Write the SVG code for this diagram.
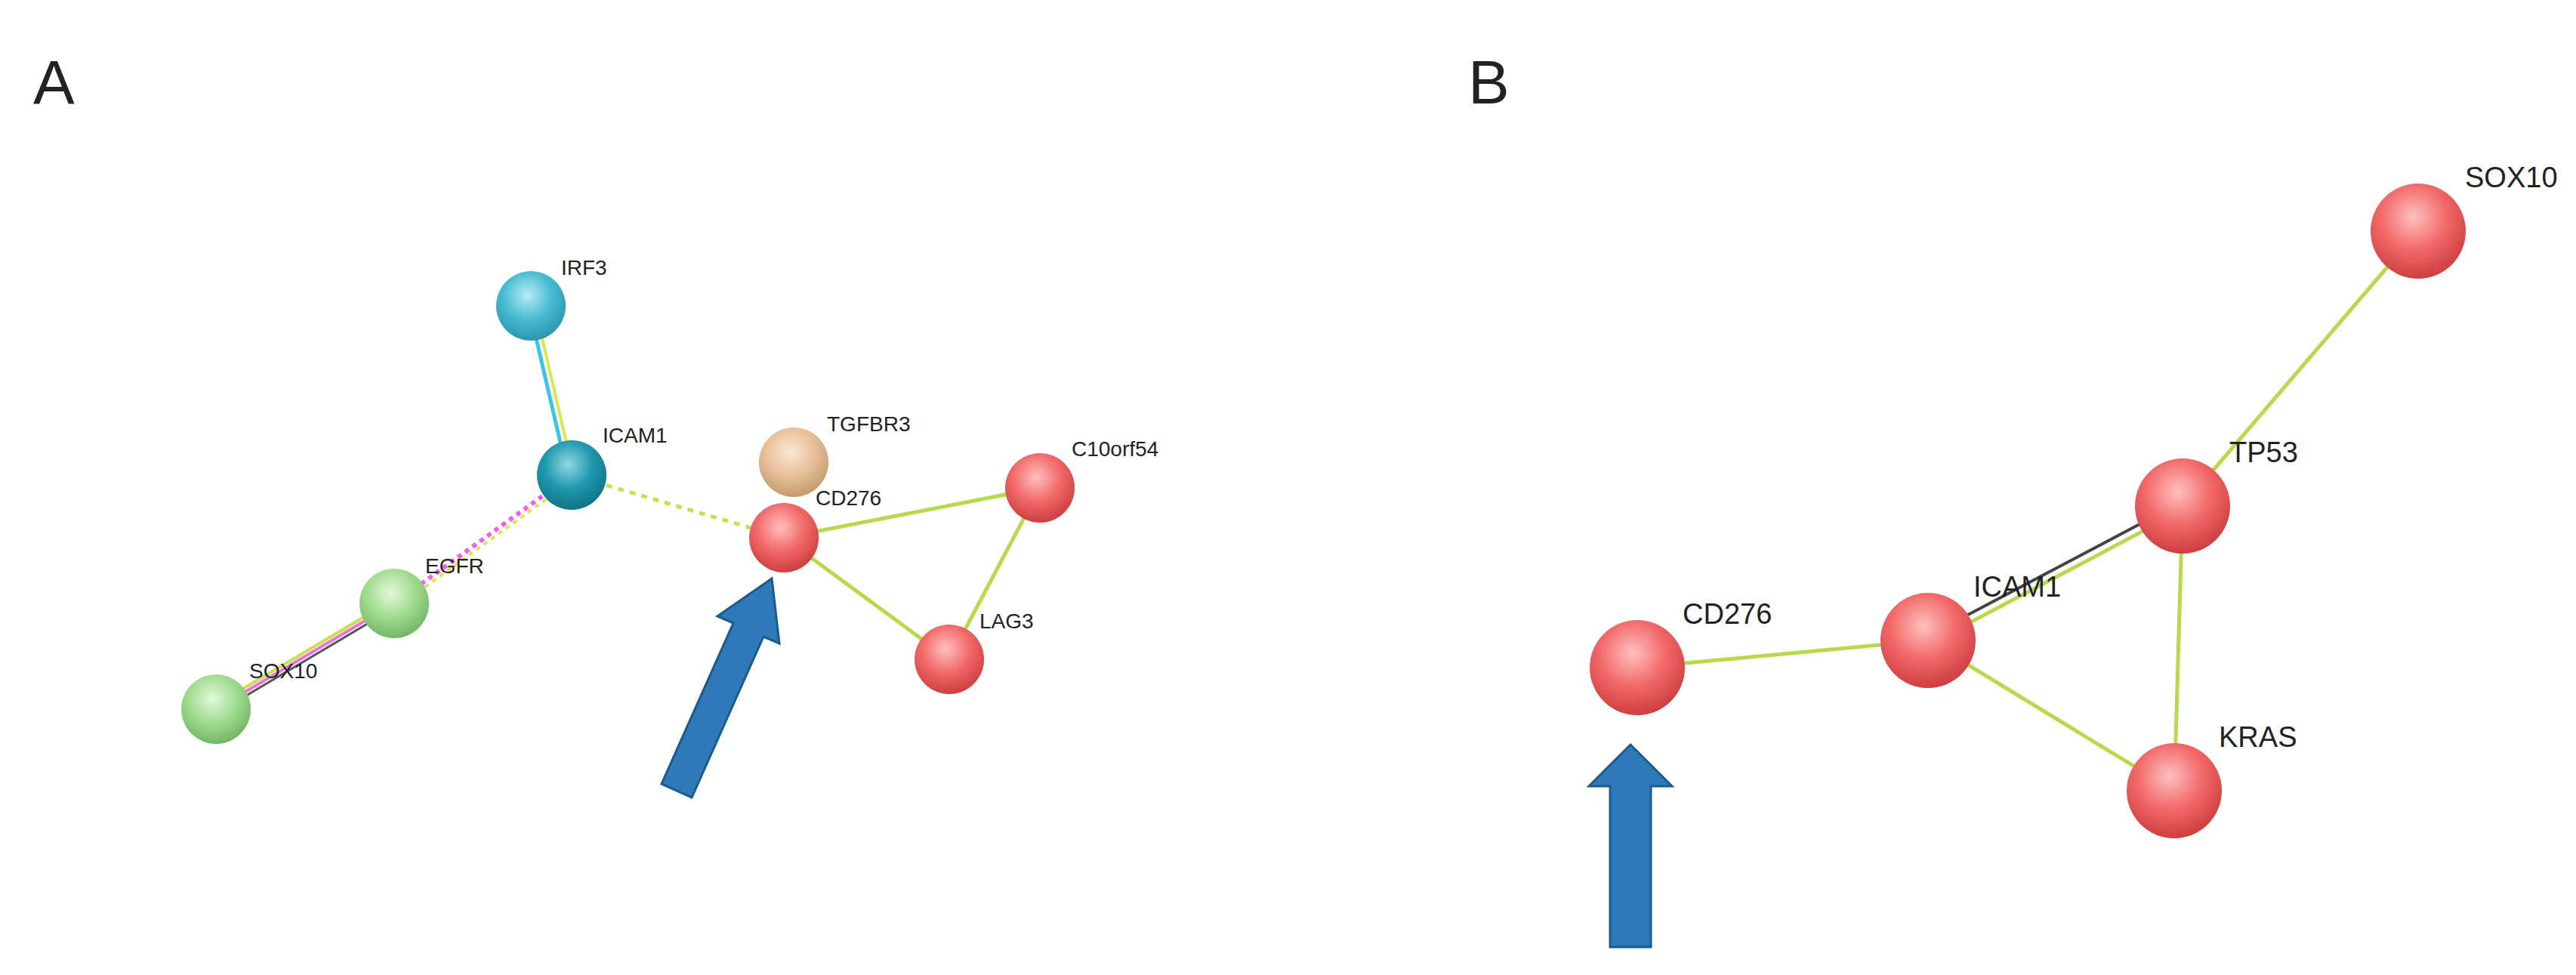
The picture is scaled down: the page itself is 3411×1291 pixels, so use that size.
<svg xmlns="http://www.w3.org/2000/svg" width="3411" height="1291" viewBox="0 0 3411 1291">
<style>
.t{font-family:"Liberation Sans",Arial,sans-serif;fill:#222}
.la{font-size:28px}
.lb{font-size:38px}
.e{stroke:#b8d94a;stroke-width:5;fill:none}
.arr{fill:#2e7ab8;stroke:#1d5a8c;stroke-width:3}
</style>
<defs>
<radialGradient id="gr" cx="0.45" cy="0.35" r="0.7"><stop offset="0" stop-color="#ffc0c0"/><stop offset="0.5" stop-color="#f26868"/><stop offset="1" stop-color="#c83838"/></radialGradient>
<radialGradient id="gt" cx="0.45" cy="0.35" r="0.7"><stop offset="0" stop-color="#8fd8e4"/><stop offset="0.5" stop-color="#1f98ad"/><stop offset="1" stop-color="#0e6d80"/></radialGradient>
<radialGradient id="gc" cx="0.45" cy="0.35" r="0.7"><stop offset="0" stop-color="#b8ecf4"/><stop offset="0.5" stop-color="#48bcd2"/><stop offset="1" stop-color="#2690a8"/></radialGradient>
<radialGradient id="gg" cx="0.45" cy="0.35" r="0.7"><stop offset="0" stop-color="#e4f8dc"/><stop offset="0.5" stop-color="#a0dc90"/><stop offset="1" stop-color="#6cb060"/></radialGradient>
<radialGradient id="gb" cx="0.45" cy="0.35" r="0.7"><stop offset="0" stop-color="#fbe8d4"/><stop offset="0.5" stop-color="#e8c09a"/><stop offset="1" stop-color="#c09468"/></radialGradient>
</defs>
<text class="t" x="44" y="137" font-size="82">A</text>
<text class="t" x="1944" y="137" font-size="82">B</text>
<g id="connectors">
<line x1="700" y1="405" x2="752" y2="629" stroke="#3cc4e8" stroke-width="5"/>
<line x1="708" y1="405" x2="760" y2="629" stroke="#d8e84a" stroke-width="4"/>
<line x1="757" y1="629" x2="522" y2="799" stroke="#f060e8" stroke-width="6" stroke-dasharray="6,6"/>
<line x1="762" y1="633" x2="527" y2="803" stroke="#d8e84a" stroke-width="4" stroke-dasharray="6,6"/>
<line x1="757" y1="629" x2="1038" y2="712" stroke="#c8e050" stroke-width="5" stroke-dasharray="8,8"/>
<line x1="519" y1="795" x2="283" y2="935" stroke="#c8e050" stroke-width="4"/>
<line x1="522" y1="799" x2="286" y2="939" stroke="#f070e0" stroke-width="4"/>
<line x1="525" y1="803" x2="289" y2="943" stroke="#555" stroke-width="3"/>
<line class="e" x1="1038" y1="712" x2="1377" y2="646"/>
<line class="e" x1="1038" y1="712" x2="1257" y2="873"/>
<line class="e" x1="1377" y1="646" x2="1257" y2="873"/>
<line class="e" x1="2168" y1="884" x2="2553" y2="848"/>
<line x1="2553" y1="842" x2="2890" y2="664" stroke="#444" stroke-width="4"/>
<line class="e" x1="2556" y1="852" x2="2893" y2="674"/>
<line class="e" x1="2553" y1="848" x2="2879" y2="1047"/>
<line class="e" x1="2890" y1="670" x2="2879" y2="1047"/>
<line class="e" x1="2890" y1="670" x2="3202" y2="306"/>
</g>
<g id="A_IRF3"><circle cx="703" cy="405" r="46" fill="url(#gc)"/><text class="t la" x="743" y="364">IRF3</text></g>
<g id="A_ICAM1"><circle cx="757" cy="629" r="46" fill="url(#gt)"/><text class="t la" x="798" y="586">ICAM1</text></g>
<g id="A_TGFBR3"><circle cx="1051" cy="612" r="46" fill="url(#gb)"/><text class="t la" x="1095" y="571">TGFBR3</text></g>
<g id="A_CD276"><circle cx="1038" cy="712" r="46" fill="url(#gr)"/><text class="t la" x="1080" y="669">CD276</text></g>
<g id="A_C10orf54"><circle cx="1377" cy="646" r="46" fill="url(#gr)"/><text class="t la" x="1419" y="604">C10orf54</text></g>
<g id="A_LAG3"><circle cx="1257" cy="873" r="46" fill="url(#gr)"/><text class="t la" x="1297" y="832">LAG3</text></g>
<g id="A_EGFR"><circle cx="522" cy="799" r="46" fill="url(#gg)"/><text class="t la" x="563" y="759">EGFR</text></g>
<g id="A_SOX10"><circle cx="286" cy="939" r="46" fill="url(#gg)"/><text class="t la" x="330" y="898">SOX10</text></g>
<g id="B_SOX10"><circle cx="3202" cy="306" r="63" fill="url(#gr)"/><text class="t lb" x="3264" y="248">SOX10</text></g>
<g id="B_TP53"><circle cx="2890" cy="670" r="63" fill="url(#gr)"/><text class="t lb" x="2952" y="612">TP53</text></g>
<g id="B_ICAM1"><circle cx="2553" cy="848" r="63" fill="url(#gr)"/><text class="t lb" x="2613" y="790">ICAM1</text></g>
<g id="B_CD276"><circle cx="2168" cy="884" r="63" fill="url(#gr)"/><text class="t lb" x="2228" y="826">CD276</text></g>
<g id="B_KRAS"><circle cx="2879" cy="1047" r="63" fill="url(#gr)"/><text class="t lb" x="2938" y="989">KRAS</text></g>
<polygon id="arrowA" class="arr" points="876,1038 971,825 950,816 1022,766 1032,852 1011,843 916,1056"/>
<polygon id="arrowB" class="arr" points="2132,1254 2132,1041 2104,1041 2159,986 2214,1041 2186,1041 2186,1254"/>
</svg>
